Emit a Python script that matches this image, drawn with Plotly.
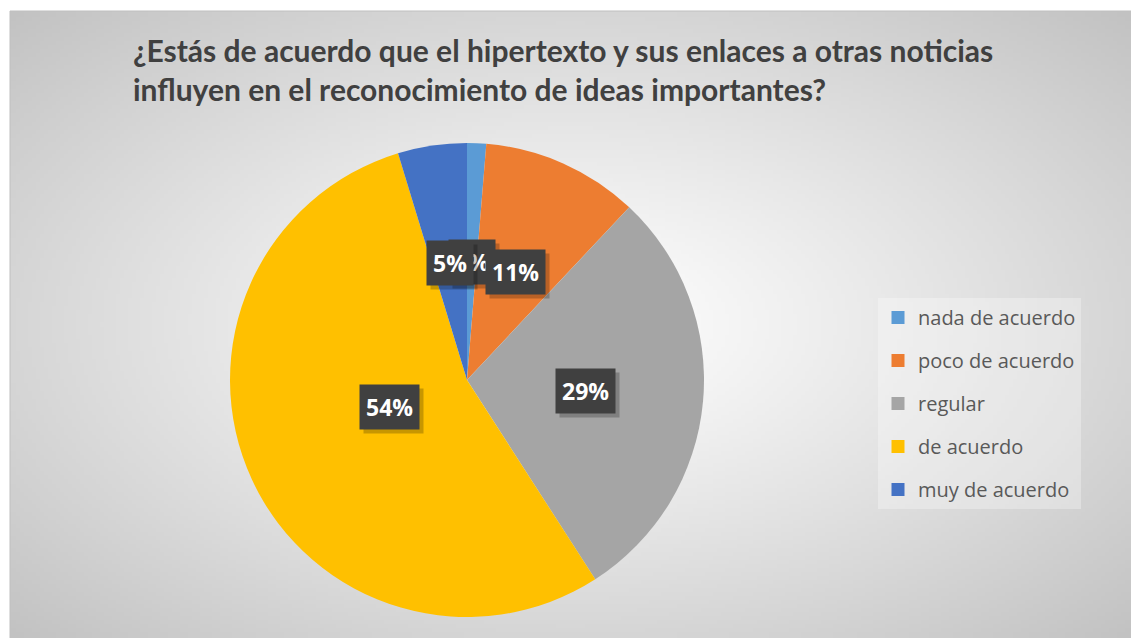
import base64, math, struct, zlib
import plotly.graph_objects as go

# ---------------- data ----------------
categories = ["nada de acuerdo", "poco de acuerdo", "regular", "de acuerdo", "muy de acuerdo"]
values = [1.3, 10.7, 28.9, 54.4, 4.7]
colors = ["#5B9BD5", "#ED7D31", "#A5A5A5", "#FFC000", "#4472C4"]
title_text = ("¿Estás de acuerdo que el hipertexto y sus enlaces a otras noticias<br>"
              "influyen en el reconocimiento de ideas importantes?")

W, H = 1131, 638

# ---------------- background gradient (png built in memory) ----------------
def make_png(w, h, pix):
    raw = b"".join(b"\x00" + bytes(r) for r in pix)
    def chunk(t, d):
        c = struct.pack(">I", len(d)) + t + d
        return c + struct.pack(">I", zlib.crc32(t + d) & 0xffffffff)
    return (b"\x89PNG\r\n\x1a\n" + chunk(b"IHDR", struct.pack(">IIBBBBB", w, h, 8, 0, 0, 0, 0))
            + chunk(b"IDAT", zlib.compress(raw, 9)) + chunk(b"IEND", b""))

gw, gh = 280, 156
cxg, cyg = 0.50, 0.50
rows = []
for j in range(gh):
    row = []
    for i in range(gw):
        dx = (i / (gw - 1) - cxg) / 0.5
        dy = (j / (gh - 1) - cyg) / 0.5
        d = min(1.0, math.sqrt(dx * dx + dy * dy) / math.sqrt(2))
        v = 255 - (255 - 194) * (d ** 1.1)
        row.append(int(round(v)))
    rows.append(row)
png_uri = "data:image/png;base64," + base64.b64encode(make_png(gw, gh, rows)).decode()

# ---------------- pie geometry ----------------
pcx, pcy, pr = 467, 380, 237  # pixel centre / radius
dom_x = [(pcx - pr) / W, (pcx + pr) / W]
dom_y = [(H - pcy - pr) / H, (H - pcy + pr) / H]

fig = go.Figure()
fig.add_trace(go.Pie(
    labels=categories, values=values, sort=False, direction="clockwise", rotation=0,
    marker=dict(colors=colors, line=dict(width=0)),
    textinfo="none", hoverinfo="label+percent", showlegend=False,
    domain=dict(x=dom_x, y=dom_y),
))

# legend entries (one per category)
for name, col in zip(categories, colors):
    fig.add_trace(go.Scatter(
        x=[None], y=[None], mode="markers", name=name, legendgroup=name,
        marker=dict(symbol="square", size=13, color=col),
    ))

# data labels computed from the values
total = sum(values)
cum = 0.0
annots = []
for v in values:
    mid = (cum + v / 2) / total * 2 * math.pi
    cum += v
    px = pcx + 0.5 * pr * math.sin(mid)
    py = pcy - 0.5 * pr * math.cos(mid)
    txt = f"{round(v / total * 100)}%"
    # shadow
    annots.append(dict(x=(px + 4) / W, y=(H - py - 4) / H, xref="paper", yref="paper",
                       text=f"<b>{txt}</b>", showarrow=False,
                       font=dict(size=23, color="rgba(0,0,0,0)", family="Open Sans"),
                       bgcolor="rgba(0,0,0,0.22)", borderpad=6))
    annots.append(dict(x=px / W, y=(H - py) / H, xref="paper", yref="paper",
                       text=f"<b>{txt}</b>", showarrow=False,
                       font=dict(size=23, color="white", family="Open Sans"),
                       bgcolor="#404040", borderpad=6))

fig.update_layout(
    width=W, height=H,
    margin=dict(l=0, r=0, t=0, b=0),
    paper_bgcolor="white", plot_bgcolor="rgba(0,0,0,0)",
    xaxis=dict(visible=False), yaxis=dict(visible=False),
    title=dict(text=f"<b>{title_text}</b>", x=133 / W, xanchor="left", y=1 - 62 / H, yanchor="top",
               font=dict(family="Lato, Liberation Sans", size=30, color="#404040")),
    legend=dict(x=878 / W, y=1 - 298 / H, xanchor="left", yanchor="top",
                bgcolor="rgba(255,255,255,0.3)", tracegroupgap=14,
                font=dict(family="Open Sans, Liberation Sans", size=20, color="#595959"),
                itemclick=False),
    images=[dict(source=png_uri, xref="paper", yref="paper", x=10 / W, y=1 - 11 / H,
                 sizex=1 - 10 / W, sizey=1 - 11 / H, xanchor="left", yanchor="top",
                 sizing="stretch", layer="below")],
    shapes=[dict(type="rect", xref="paper", yref="paper", x0=10 / W, y0=-0.01, x1=1.01, y1=1 - 11 / H,
                 line=dict(color="#BFBFBF", width=1), layer="below")],
    annotations=annots,
)

fig.write_html("out.html", config={"displayModeBar": False},
               post_script="document.body.style.margin='0';document.body.style.overflow='hidden';")
